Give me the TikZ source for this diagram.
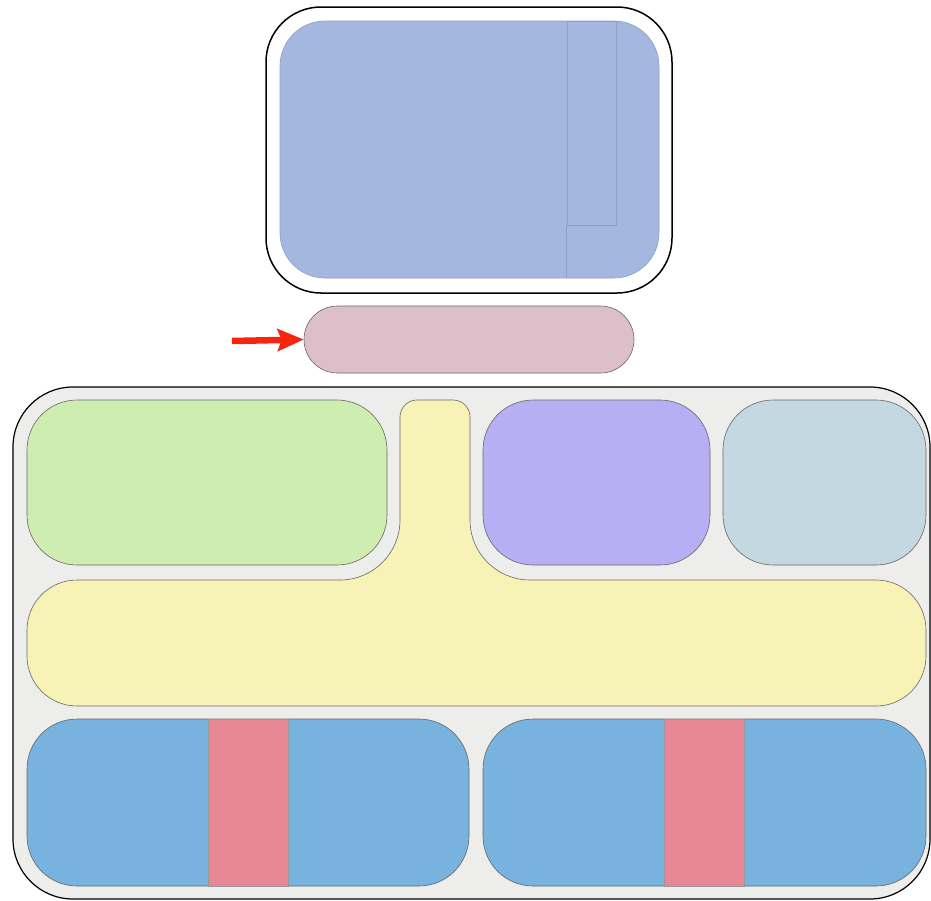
\documentclass[tikz,border=0pt]{standalone}
\usepackage{tikz}
\usetikzlibrary{positioning,arrows.meta}
\definecolor{screenblue}{HTML}{A4B8DF}
\definecolor{slotline}{HTML}{8C9FCB}
\definecolor{pillpink}{HTML}{DDBFC9}
\definecolor{traygray}{HTML}{EDEDEB}
\definecolor{cellgreen}{HTML}{CDEEB0}
\definecolor{cellyellow}{HTML}{F7F3B7}
\definecolor{cellpurple}{HTML}{B7AFF4}
\definecolor{cellgrey}{HTML}{C3D8E0}
\definecolor{cellblue}{HTML}{78B2DE}
\definecolor{stripered}{HTML}{E88896}
\definecolor{arrowred}{HTML}{F8240F}

\begin{document}
\begin{tikzpicture}[x=1pt,y=1pt,
    cell/.style={draw=black!60, line width=0.6pt, inner sep=0pt, rounded corners=50pt},
    stripe/.style={draw=black!40, line width=0.5pt, fill=stripered, inner sep=0pt, minimum width=80pt, minimum height=167pt}]
      \useasboundingbox (0,0) rectangle (931,-900);

      % top unit
      \node[draw=black, line width=1.5pt, fill=white, rounded corners=55pt, inner sep=0pt,
            minimum width=406pt, minimum height=286pt] (screen) at (469,-150) {};
      \node[draw=slotline, line width=0.6pt, fill=screenblue, rounded corners=45pt, inner sep=0pt,
            minimum width=379pt, minimum height=257pt] (panel) at (469.5,-149.5) {};
      \node[draw=slotline, line width=0.6pt, inner sep=0pt,
            minimum width=49pt, minimum height=204pt] (slot) at (591.5,-123) {};
      \draw[slotline, line width=0.6pt] (slot.south west) -- (slot.south west |- panel.south);

      \node[cell, fill=pillpink, rounded corners=33.5pt, minimum width=330pt, minimum height=67pt] (pill) at (469,-339.5) {};
      \coordinate (arrowtail) at (232,-341);
      \path[-{Stealth[length=26pt,width=22pt,inset=4pt]}, arrowred, line width=6.5pt] (arrowtail) edge (pill.west);

      % tray
      \node[draw=black, line width=1.2pt, fill=traygray, rounded corners=60pt, inner sep=0pt,
            minimum width=917pt, minimum height=512pt] (tray) at (471.5,-643) {};

      \node[cell, fill=cellgreen, minimum width=360pt, minimum height=165pt] (green) at (207,-482.5) {};
      \node[cell, fill=cellpurple, minimum width=227pt, minimum height=165pt] (purple) at (596.5,-482.5) {};
      \node[cell, fill=cellgrey, minimum width=203pt, minimum height=165pt] (grey) at (824.5,-482.5) {};

      \draw[draw=black!60, line width=0.6pt, fill=cellyellow]
        (417,-400) -- (453,-400) arc[start angle=90, end angle=0, radius=17]
        -- (470,-520) arc[start angle=180, end angle=270, radius=60]
        -- (876,-580) arc[start angle=90, end angle=0, radius=50]
        -- (926,-656) arc[start angle=0, end angle=-90, radius=50]
        -- (77,-706) arc[start angle=270, end angle=180, radius=50]
        -- (27,-630) arc[start angle=180, end angle=90, radius=50]
        -- (340,-580) arc[start angle=-90, end angle=0, radius=60]
        -- (400,-417) arc[start angle=180, end angle=90, radius=17] -- cycle;

      \node[cell, fill=cellblue, minimum width=442pt, minimum height=167pt] (lunchl) at (248,-802.5) {};
      \node[stripe] (stripel) at (lunchl.center) {};
      \node[cell, fill=cellblue, minimum width=443pt, minimum height=167pt] (lunchr) at (704.5,-802.5) {};
      \node[stripe] (striper) at (lunchr.center) {};
    \end{tikzpicture}
\end{document}
